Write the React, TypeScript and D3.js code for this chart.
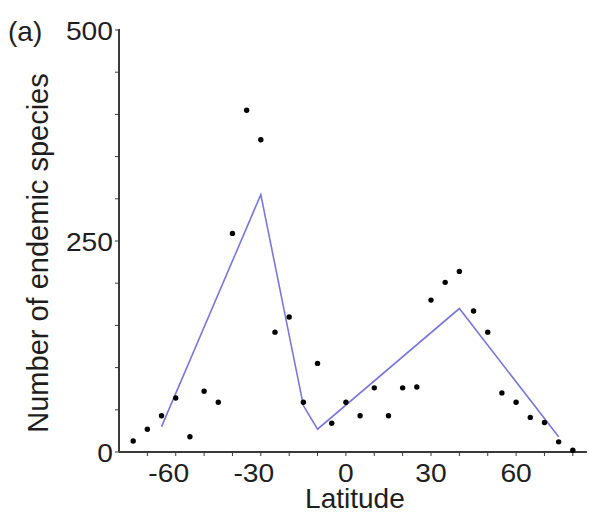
import React from "react";
import * as d3 from "d3";

const latitudes = [-75, -70, -65, -60, -55, -50, -45, -40, -35, -30, -25, -20, -15, -10, -5, 0, 5, 10, 15, 20, 25, 30, 35, 40, 45, 50, 55, 60, 65, 70, 75, 80];
const species = [13, 27, 43, 64, 18, 72, 59, 259, 405, 370, 142, 160, 59, 105, 34, 59, 43, 76, 43, 76, 77, 180, 201, 214, 167, 142, 70, 59, 41, 35, 12, 2];
const fitLat = [-65, -30, -15, -10, 40, 75];
const fitVal = [30, 305, 55, 27, 170, 18];
const xTickLabels = [-60, -30, 0, 30, 60];
const xMinorTicks = [-70, -60, -50, -40, -30, -20, -10, 0, 10, 20, 30, 40, 50, 60, 70, 80];
const yTickLabels = [0, 250, 500];
const yMinorTicks = [0, 50, 100, 150, 200, 250, 300, 350, 400, 450, 500];

export default function App() {
  const W = 589, H = 520;
  const x = d3.scaleLinear().domain([-80, 85]).range([119, 587]);
  const y = d3.scaleLinear().domain([0, 500]).range([452, 30]);
  const line = d3.line<number>().x((_, i) => x(fitLat[i])).y((d) => y(d));
  const font = "Liberation Sans, Arial, Helvetica, sans-serif";
  const axisColor = "#3a3a3a";
  const txt = "#1e1e1e";
  return (
    <svg width={W} height={H} style={{ position: "absolute", left: 0, top: 0, background: "#fff" }} fontFamily={font}>
      <rect x={0} y={0} width={W} height={H} fill="#fff" />
      {/* axes */}
      <line x1={x(-80)} x2={x(85)} y1={y(0)} y2={y(0)} stroke={axisColor} strokeWidth={2} />
      <line x1={x(-80)} x2={x(-80)} y1={y(0)} y2={y(500) - 1} stroke={axisColor} strokeWidth={2} />
      {xMinorTicks.map((t) => (
        <line key={"xt" + t} x1={x(t)} x2={x(t)} y1={y(0)} y2={y(0) + 4} stroke={axisColor} strokeWidth={1} />
      ))}
      {yMinorTicks.map((t) => (
        <line key={"yt" + t} x1={x(-80) - 4} x2={x(-80)} y1={y(t)} y2={y(t)} stroke={axisColor} strokeWidth={1} />
      ))}
      {xTickLabels.map((t) => (
        <text key={"xl" + t} transform={`translate(${x(t) + (t < 0 ? -7 : 0)},482) scale(1.13,1)`} textAnchor="middle" fontSize={25} fill={txt}>
          {String(t)}
        </text>
      ))}
      {yTickLabels.map((t) => (
        <text key={"yl" + t} transform={`translate(113,${y(t) + 10}) scale(1.13,1)`} textAnchor="end" fontSize={25} fill={txt}>
          {String(t)}
        </text>
      ))}
      <text x={x(0) + 9} y={508} textAnchor="middle" fontSize={28} fill={txt}>Latitude</text>
      <text transform={`translate(48,253) rotate(-90)`} textAnchor="middle" fontSize={29} fill={txt}>
        Number of endemic species
      </text>
      <text x={8} y={41} fontSize={28} fill={txt}>(a)</text>
      {/* fit line */}
      <path d={line(fitVal) || ""} fill="none" stroke="#7878dc" strokeWidth={1.6} />
      {/* points */}
      {latitudes.map((lat, i) => (
        <circle key={"p" + lat} cx={x(lat)} cy={y(species[i])} r={2.7} fill="#000" />
      ))}
    </svg>
  );
}
